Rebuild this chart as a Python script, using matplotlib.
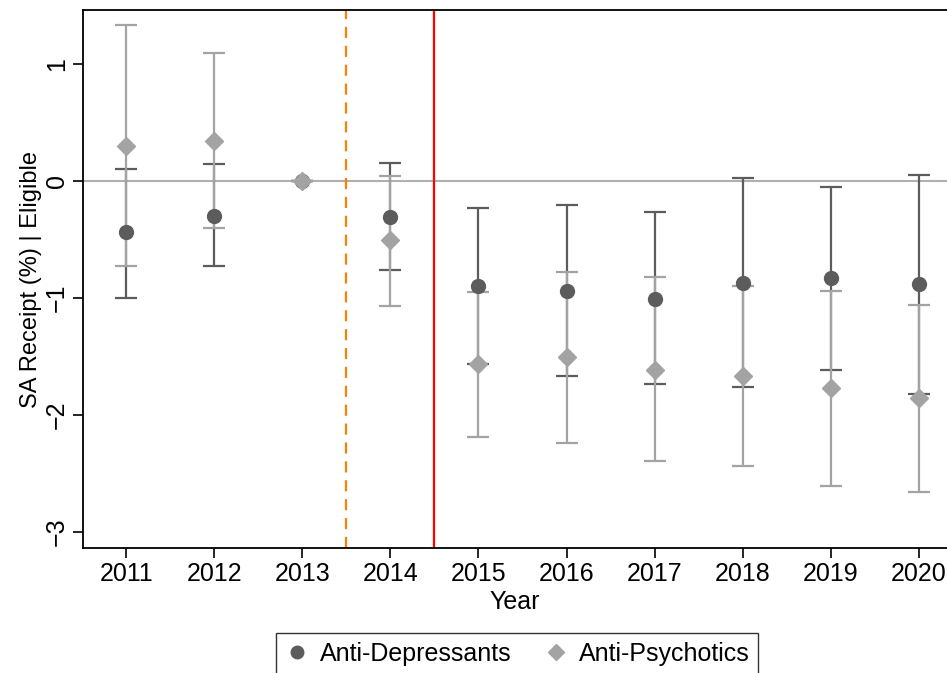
import numpy as np
import matplotlib.pyplot as plt

plt.rcParams['font.family'] = ['Liberation Sans', 'DejaVu Sans']

# event-study estimates
years = [2011, 2012, 2013, 2014, 2015, 2016, 2017, 2018, 2019, 2020]

ad_coef = [-0.44, -0.30, 0.0, -0.31, -0.90, -0.94, -1.01, -0.87, -0.83, -0.88]
ad_lo = [-1.00, -0.73, 0.0, -0.76, -1.57, -1.67, -1.74, -1.76, -1.62, -1.82]
ad_hi = [0.10, 0.14, 0.0, 0.15, -0.23, -0.21, -0.27, 0.02, -0.05, 0.05]

ap_coef = [0.30, 0.34, 0.0, -0.51, -1.57, -1.51, -1.62, -1.67, -1.77, -1.86]
ap_lo = [-0.73, -0.40, 0.0, -1.07, -2.19, -2.24, -2.40, -2.44, -2.61, -2.66]
ap_hi = [1.33, 1.09, 0.0, 0.04, -0.95, -0.78, -0.82, -0.90, -0.94, -1.06]

dark = '#5c5c5c'
light = '#a3a3a3'

fig = plt.figure(figsize=(9.47, 6.73), dpi=100)
ax = fig.add_axes([83 / 947, 1 - 548 / 673, 1 - 83 / 947, (548 - 10) / 673])

ax.axhline(0, color='#b0b0b0', lw=1.5, zorder=1)
ax.axvline(2013.5, color='#ff8000', lw=1.6, ls=(0, (5, 3.5)), zorder=1)
ax.axvline(2014.5, color='#ff0000', lw=1.6, zorder=1)

def draw(coef, lo, hi, marker, ms, color, label):
    c = np.array(coef)
    err = [c - np.array(lo), np.array(hi) - c]
    ax.errorbar(years, c, yerr=err, fmt='none', ecolor=color, elinewidth=1.6,
                capsize=8, capthick=1.6, zorder=2)
    ax.plot(years, c, ls='none', marker=marker, ms=ms, color=color,
            mec=color, label=label, zorder=3)

draw(ad_coef, ad_lo, ad_hi, 'o', 10, dark, 'Anti-Depressants')
draw(ap_coef, ap_lo, ap_hi, 'D', 9, light, 'Anti-Psychotics')

ax.set_xlim(2010.51, 2020.32)
ax.set_ylim(-3.14, 1.46)
ax.set_xticks(years)
ax.set_yticks([-3, -2, -1, 0, 1])
ax.tick_params(axis='both', labelsize=18, length=7, width=1.2, direction='out', pad=3)
for lbl in ax.get_yticklabels():
    lbl.set_rotation(90)
    lbl.set_va('center')
ax.spines['right'].set_visible(False)
for s in ['left', 'bottom', 'top']:
    ax.spines[s].set_linewidth(1.3)

ax.set_xlabel('Year', fontsize=18, labelpad=3)
ax.set_ylabel('SA Receipt (%) | Eligible', fontsize=17, labelpad=2)

leg = fig.legend(loc='upper center', bbox_to_anchor=(517 / 947, 1 - 633 / 673),
                 ncol=2, fontsize=18, frameon=True, fancybox=False,
                 edgecolor='black', handletextpad=0.4, columnspacing=1.3,
                 handlelength=1.0, borderpad=0.35, borderaxespad=0,
                 markerscale=0.9)
leg.get_frame().set_linewidth(1.0)

fig.savefig('out.png', dpi=100)
